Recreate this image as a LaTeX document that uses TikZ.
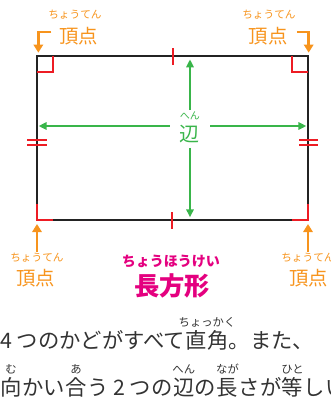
\documentclass[tikz,border=0pt]{standalone}
\usepackage{fontspec}
\setmainfont{Noto Sans CJK JP}
\usetikzlibrary{arrows.meta,positioning}
\definecolor{vtxorange}{RGB}{247,148,29}
\definecolor{sidegreen}{RGB}{57,181,74}
\definecolor{markred}{RGB}{237,28,36}
\definecolor{titlepink}{RGB}{228,0,127}
\definecolor{edgeblack}{RGB}{35,35,35}
\definecolor{textgray}{RGB}{51,51,51}

\begin{document}
\begin{tikzpicture}[x=0.75pt,y=-0.75pt,
    edge/.style={draw=edgeblack,line width=2.2pt},
    redmark/.style={draw=markred,line width=1.5pt},
    sidearrow/.style={sidegreen,line width=1.5pt,-{Triangle[length=6pt,width=5.5pt]}},
    vtxarrow/.style={vtxorange,line width=2pt,-{Triangle[length=6pt,width=7pt]}},
    vtxruby/.style={vtxorange,inner sep=1pt,font=\fontsize{8}{9}\selectfont},
    vtxword/.style={vtxorange,inner sep=1pt,font=\fontsize{14.5}{15}\selectfont},
    line/.style={textgray,inner sep=0pt,font=\fontsize{16}{17}\selectfont},
    ruby/.style={textgray,inner sep=0pt,anchor=base,font=\fontsize{8.5}{9}\selectfont}]
        \useasboundingbox (0,0) rectangle (331,401);
        % Corners of the rectangle
        \coordinate (A) at (37,56);
        \coordinate (B) at (308,56);
        \coordinate (C) at (308,220);
        \coordinate (D) at (37,220);
        \draw[edge] (A) -- (B) -- (C) -- (D) -- cycle;
        % Right angles
        \draw[redmark] ([shift={(0,16)}]A) -| ([shift={(16,0)}]A);
        \draw[redmark] ([shift={(0,16)}]B) -| ([shift={(-16,0)}]B);
        \draw[redmark] ([shift={(0,-16)}]C) |- ([shift={(-16,0)}]C);
        \draw[redmark] ([shift={(0,-16)}]D) |- ([shift={(16,0)}]D);
        % Equal sides
        \draw[redmark] (173,48) -- (173,65);
        \draw[redmark] (172,212) -- (172,229);
        \draw[redmark] (27,140) -- (47,140);
        \draw[redmark] (27,145) -- (47,145);
        \draw[redmark] (299,140) -- (318,140);
        \draw[redmark] (299,145) -- (318,145);
        % Side label and arrows
        \node[sidegreen,inner xsep=7.5pt,inner ysep=3.5pt,font=\fontsize{15}{16}\selectfont] (side) at (190,134) {辺};
        \node[sidegreen,inner sep=1pt,font=\fontsize{7.5}{8}\selectfont,above=-1pt of side.north] (siderb) {へん};
        \draw[sidearrow,shorten >=2.5pt] (siderb.north) -- (siderb.north |- A);
        \draw[sidearrow,shorten >=2pt] (side.south) -- (side.south |- D);
        \draw[sidearrow,shorten >=1.2pt] ([yshift=6pt]side.west) -- ([yshift=6pt]side.west -| A);
        \draw[sidearrow,shorten >=1.2pt] ([yshift=6pt]side.east) -- ([yshift=6pt]side.east -| B);
        % Vertices
        \node[vtxruby] (tlr) at (75,15) {ちょうてん};
        \node[vtxword] (tlv) at (79,36) {頂点};
        \node[vtxruby] (trr) at (269,15) {ちょうてん};
        \node[vtxword] (trv) at (268,36) {頂点};
        \node[vtxruby] (blr) at (37,258) {ちょうてん};
        \node[vtxword] (blv) at (36,278) {頂点};
        \node[vtxruby] (brr) at (308,258) {ちょうてん};
        \node[vtxword] (brv) at (309,278) {頂点};
        \draw[vtxarrow,shorten >=2.5pt] ([xshift=-5pt,yshift=3pt]tlv.west) -| ([xshift=1pt]A);
        \draw[vtxarrow,shorten >=2.5pt] ([xshift=6pt,yshift=3pt]trv.east) -| ([xshift=0.5pt]B);
        \draw[vtxarrow,shorten >=3pt] (blr.north) -- (D);
        \draw[vtxarrow,shorten >=3pt] (brr.north) -- (C);
        % Title
        \node[titlepink,font=\bfseries\fontsize{10.5}{11}\selectfont] (titler) at (171,261) {ちょうほうけい};
        \node[titlepink,font=\bfseries\fontsize{19}{20}\selectfont] (title) at (172,286) {長方形};
        % Text lines
        \node[line,anchor=base west] (l1a) at (0,348) {4 つのかどがすべて};
        \node[line,base right=0pt of l1a] (l1b) {直角};
        \node[line,base right=0pt of l1b] (l1c) {。また、};
        \node[ruby] (r1b) at ([yshift=16pt]l1b.base) {ちょっかく};
        \node[line,anchor=base west] (l2a) at (0,395) {向};
        \node[line,base right=0pt of l2a] (l2b) {かい};
        \node[line,base right=0pt of l2b] (l2c) {合};
        \node[line,base right=0pt of l2c] (l2d) {う 2 つの};
        \node[line,base right=0pt of l2d] (l2e) {辺};
        \node[line,base right=0pt of l2e] (l2f) {の};
        \node[line,base right=0pt of l2f] (l2g) {長};
        \node[line,base right=0pt of l2g] (l2h) {さが};
        \node[line,base right=0pt of l2h] (l2i) {等};
        \node[line,base right=0pt of l2i] (l2j) {しい};
        \node[ruby] (r2a) at ([yshift=16.5pt]l2a.base) {む};
        \node[ruby] (r2c) at ([yshift=16.5pt]l2c.base) {あ};
        \node[ruby] (r2e) at ([yshift=16.5pt]l2e.base) {へん};
        \node[ruby] (r2g) at ([yshift=16.5pt]l2g.base) {なが};
        \node[ruby] (r2i) at ([yshift=16.5pt]l2i.base) {ひと};
\end{tikzpicture}
\end{document}
